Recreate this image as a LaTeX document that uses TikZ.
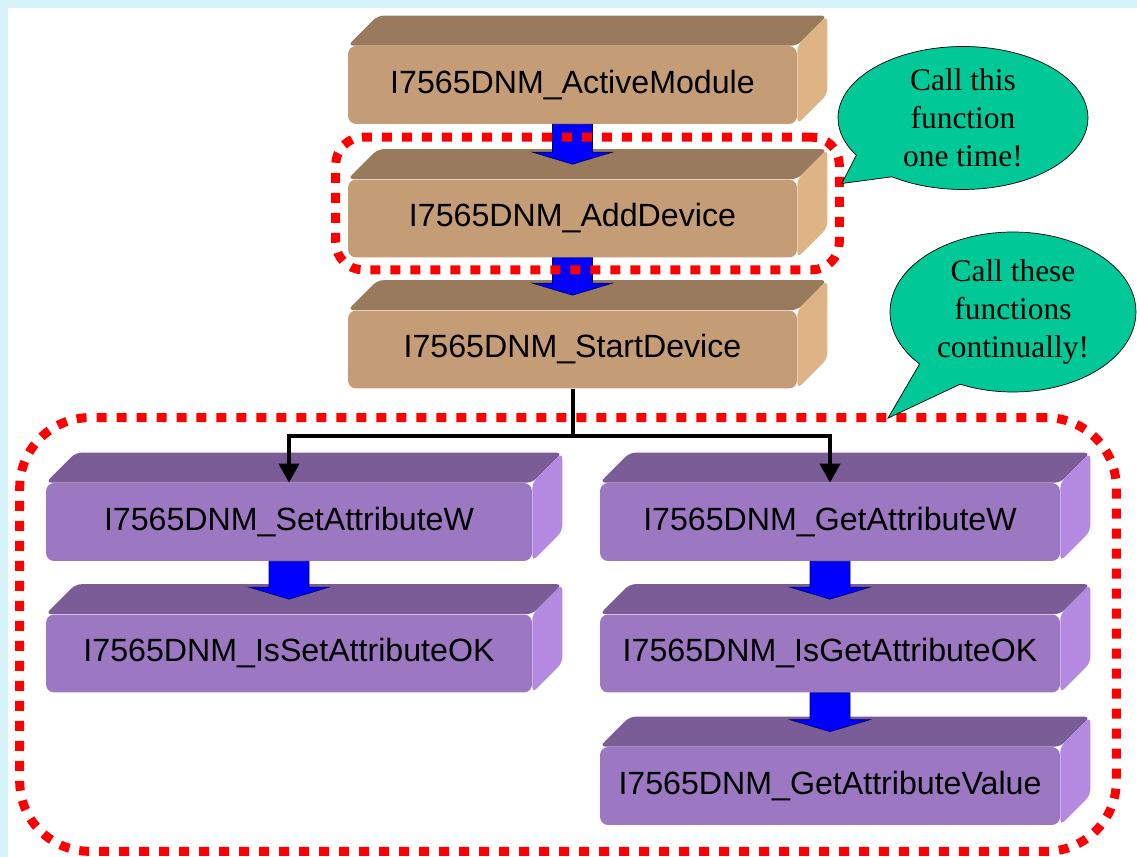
\documentclass[tikz,border=0pt]{standalone}
\usepackage{fontspec}
\setmainfont{Liberation Serif}
\setsansfont{Liberation Sans}
\usetikzlibrary{positioning, shapes.callouts, arrows.meta, fit, backgrounds, calc}
\definecolor{tanFront}{RGB}{196,156,117}
\definecolor{tanTop}{RGB}{154,122,92}
\definecolor{tanSide}{RGB}{222,179,133}
\definecolor{lilacFront}{RGB}{156,119,194}
\definecolor{lilacTop}{RGB}{122,92,150}
\definecolor{lilacSide}{RGB}{180,138,224}
\definecolor{noteGreen}{RGB}{0,201,151}
\definecolor{dotRed}{RGB}{255,0,0}
\definecolor{slideCyan}{RGB}{214,244,250}

\begin{document}
\begin{tikzpicture}[
    x=0.02cm, y=-0.02cm,
    font=\fontsize{18.3}{22}\selectfont\sffamily,
    tanbox/.style={rectangle, rounded corners=0.16cm, fill=tanFront, minimum width=8.98cm, minimum height=1.56cm, inner sep=0pt},
    lilacbox/.style={rectangle, rounded corners=0.16cm, fill=lilacFront, minimum height=1.56cm, inner sep=0pt},
    note/.style={ellipse callout, draw=black, thin, fill=noteGreen, align=center, inner sep=-3pt, callout pointer arc=24, font=\fontsize{17.9}{21.6}\selectfont\rmfamily},
    calldots/.style={rectangle, draw=dotRed, line width=0.18cm, dash pattern=on 0.2cm off 0.2cm},
    flow/.style={line width=0.08cm, -{Triangle[length=0.38cm, width=0.4cm]}},
    blockarr/.style={fill=blue, draw=blue!40!black, thin}
]
    \useasboundingbox (0,0) rectangle (1137,857);

    % set-up calls
    \node[tanbox] (active) at (572.5,85) {I7565DNM\_ActiveModule};
    \node[tanbox] (add) at (572.5,218.5) {I7565DNM\_AddDevice};
    \node[tanbox] (start) at (572.5,349.5) {I7565DNM\_StartDevice};

    % attribute calls
    \node[lilacbox, minimum width=9.72cm] (setw) at (289,522) {I7565DNM\_SetAttributeW};
    \node[lilacbox, minimum width=9.72cm] (isset) at (289,653.5) {I7565DNM\_IsSetAttributeOK};
    \node[lilacbox, minimum width=9.2cm] (getw) at (830,522) {I7565DNM\_GetAttributeW};
    \node[lilacbox, minimum width=9.2cm] (isget) at (830,653.5) {I7565DNM\_IsGetAttributeOK};
    \node[lilacbox, minimum width=9.2cm] (getval) at (830,786) {I7565DNM\_GetAttributeValue};

    \begin{scope}[on background layer]
        \fill[slideCyan] (0,0) rectangle (1137,857);
        \fill[white] (8,8) rectangle (1137,857);
        \foreach \n in {active, add, start} {
            \fill[tanTop, rounded corners=0.12cm] (\n.north west) -- ++(30,-30) -- ($(\n.north east)+(30,-30)$) -- (\n.north east) -- cycle;
            \fill[tanSide, rounded corners=0.12cm] (\n.north east) -- ++(30,-30) -- ($(\n.south east)+(30,-30)$) -- (\n.south east) -- cycle;
        }
        \foreach \n in {setw, isset, getw, isget, getval} {
            \fill[lilacTop, rounded corners=0.12cm] (\n.north west) -- ++(30,-30) -- ($(\n.north east)+(30,-30)$) -- (\n.north east) -- cycle;
            \fill[lilacSide, rounded corners=0.12cm] (\n.north east) -- ++(30,-30) -- ($(\n.south east)+(30,-30)$) -- (\n.south east) -- cycle;
        }
    \end{scope}

    \foreach \a/\b in {active/add, add/start, setw/isset, getw/isget, isget/getval}
        \filldraw[blockarr] ($(\a.south)+(-20,0)$) -- ($(\b.north)+(-20,-27)$) -- ++(-20,0) -- ($(\b.north)+(0,-15)$)
            -- ($(\b.north)+(40,-27)$) -- ++(-20,0) -- ($(\a.south)+(20,0)$) -- cycle;

    \coordinate (split) at ($(start.south)+(0,47)$);
    \draw[flow] (start.south) -- (split) -| (setw.north);
    \draw[flow] (split) -| (getw.north);

    \coordinate (addback) at ($(add.north east)+(30,-30)$);
    \coordinate (getwback) at ($(getw.north east)+(30,-39)$);
    \node[calldots, rounded corners=0.55cm, inner sep=0.24cm, fit=(add) (addback)] (oncebox) {};
    \node[calldots, rounded corners=1.4cm, inner sep=0.52cm, fit=(setw) (getval) (getwback)] (loopbox) {};

    \coordinate (tip1) at ($(oncebox.east)+(-2,-20)$);
    \coordinate (tip2) at ($(loopbox.north)+(320,5)$);
    \node[note, minimum width=5cm, minimum height=2.86cm, callout absolute pointer=(tip1)] (note1) at (963,118) {Call this\\function\\one time!};
    \node[note, minimum width=4.92cm, minimum height=3.2cm, callout absolute pointer=(tip2)] (note2) at (1013,312) {Call these\\functions\\continually!};
\end{tikzpicture}
\end{document}
